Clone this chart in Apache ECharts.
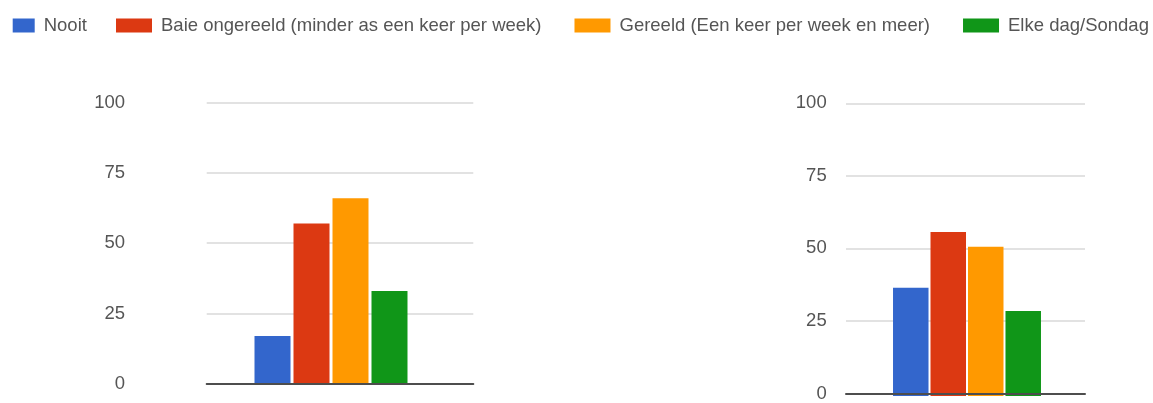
<!DOCTYPE html>
<html>
<head>
<meta charset="utf-8">
<script src="https://cdn.jsdelivr.net/npm/echarts@6/dist/echarts.min.js"></script>
<style>
  html, body { margin: 0; padding: 0; background: #fff; }
  #chart { width: 1153px; height: 403px; }
</style>
</head>
<body>
<div id="chart"></div>
<script>
const categories = [
  'Nooit',
  'Baie ongereeld (minder as een keer per week)',
  'Gereeld (Een keer per week en meer)',
  'Elke dag/Sondag'
];
const leftValues = [17, 57, 66, 33];
const rightValues = [37, 56, 51, 29];
const colors = ['#3366cc', '#dc3912', '#ff9900', '#109618'];
const yMin = 0, yMax = 100, yStep = 25;

const FONT = 'Liberation Sans, Arial, sans-serif';
const textColor = '#555';

function frameY(gridIndex, margin) {
  return {
    type: 'value', gridIndex, min: yMin, max: yMax, interval: yStep,
    axisLine: { show: false }, axisTick: { show: false },
    axisLabel: { color: textColor, fontSize: 18.5, fontFamily: FONT, margin, padding: [5, 0, 0, 0] },
    splitLine: { lineStyle: { color: '#d9d9d9', width: 1.5 } }
  };
}
function frameX(gridIndex) {
  return {
    type: 'category', gridIndex, data: [''], z: 5,
    axisLine: { show: true, lineStyle: { color: '#4d4d4d', width: 2 } },
    axisTick: { show: false }, axisLabel: { show: false }
  };
}
function barX(gridIndex) {
  return { type: 'category', gridIndex, data: [''], show: false };
}
function barY(gridIndex) {
  return { type: 'value', gridIndex, min: yMin, max: yMax, show: false, splitLine: { show: false } };
}

const series = [];
categories.forEach((name, i) => {
  series.push({
    type: 'bar', name, xAxisIndex: 1, yAxisIndex: 1,
    data: [leftValues[i]], barWidth: 36, barGap: '8.33%',
    itemStyle: { color: colors[i] }
  });
});
categories.forEach((name, i) => {
  series.push({
    type: 'bar', name, xAxisIndex: 3, yAxisIndex: 3,
    data: [rightValues[i]], barWidth: 35.5, barGap: '5.6%',
    itemStyle: { color: colors[i] }
  });
});

const legendText = { color: textColor, fontSize: 18.5, fontFamily: FONT, padding: [0, 0, 0, 4] };

const option = {
  animation: false,
  color: colors,
  legend: [
    {
      data: [categories[0]], left: 12.7, top: 16, padding: 0,
      itemWidth: 22, itemHeight: 14, icon: 'rect', textStyle: legendText
    },
    {
      data: categories.slice(1), left: 116, top: 16, padding: 0,
      itemWidth: 36, itemHeight: 14, itemGap: 33, icon: 'rect', textStyle: legendText
    }
  ],
  grid: [
    { left: 206.7, top: 102.7, width: 266.6, height: 281 },
    { left: 206.7, top: 102.7, width: 248.6, height: 281 },
    { left: 846, top: 103.3, width: 239, height: 292.7 },
    { left: 846, top: 103.3, width: 242, height: 292.7 }
  ],
  xAxis: [frameX(0), barX(1), frameX(2), barX(3)],
  yAxis: [frameY(0, 81.7), barY(1), frameY(2, 19.3), barY(3)],
  series
};

const chart = echarts.init(document.getElementById('chart'), null, { renderer: 'canvas' });
chart.setOption(option);
</script>
</body>
</html>
